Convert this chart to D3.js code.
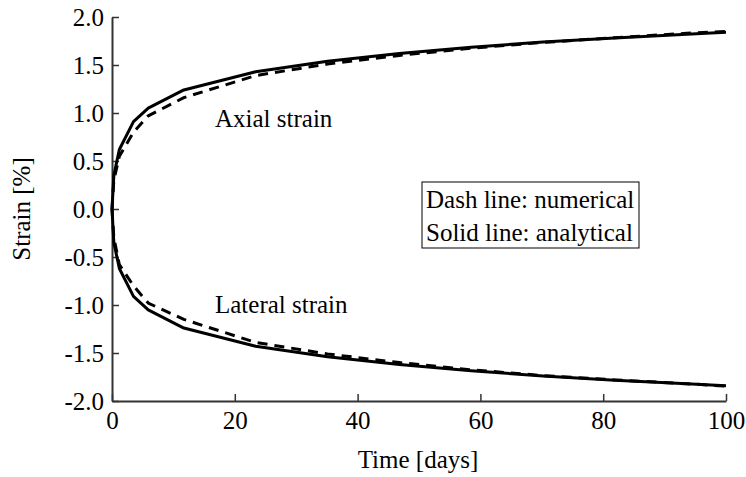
<!DOCTYPE html>
<html>
<head>
<meta charset="utf-8">
<script src="https://cdn.jsdelivr.net/npm/d3@7"></script>
<style>
html,body{margin:0;padding:0;background:#fff;}
svg{display:block;font-family:"Liberation Serif","Times New Roman",serif;}
</style>
</head>
<body>
<svg id="chart" width="746" height="477"></svg>
<script>
const time = [0, 0.3, 1.2, 3.5, 5.9, 11.7, 23.4, 35.1, 46.8, 58.5, 70.2, 81.9, 93.6, 100];
const axialAnalytical = [0, 0.35, 0.62, 0.91, 1.05, 1.24, 1.43, 1.54, 1.62, 1.685, 1.74, 1.78, 1.82, 1.84];
const axialNumerical  = [0, 0.30, 0.55, 0.80, 0.97, 1.16, 1.39, 1.51, 1.60, 1.675, 1.735, 1.785, 1.83, 1.85];
const lateralAnalytical = [0, -0.35, -0.62, -0.91, -1.05, -1.24, -1.43, -1.54, -1.62, -1.685, -1.74, -1.785, -1.82, -1.84];
const lateralNumerical  = [0, -0.30, -0.58, -0.80, -0.98, -1.15, -1.39, -1.51, -1.60, -1.675, -1.735, -1.78, -1.82, -1.845];
const xTicks = [0, 20, 40, 60, 80, 100];
const yTicks = [-2.0, -1.5, -1.0, -0.5, 0.0, 0.5, 1.0, 1.5, 2.0];

const svg = d3.select("#chart");
const x = d3.scaleLinear().domain([0, 100]).range([112, 726]);
const y = d3.scaleLinear().domain([-2, 2]).range([401, 17]);
const fs = 25;
const fmtY = d => d3.format(".1f")(d).replace("\u2212", "-");

const xAxis = d3.axisBottom(x).tickValues(xTicks).tickFormat(d3.format("d")).tickSizeInner(-7).tickSizeOuter(0).tickPadding(10);
const yAxis = d3.axisLeft(y).tickValues(yTicks).tickFormat(fmtY).tickSizeInner(-7).tickSizeOuter(0).tickPadding(8);

const gx = svg.append("g").attr("transform", `translate(0,${y(-2)})`).call(xAxis);
const gy = svg.append("g").attr("transform", `translate(${x(0)},0)`).call(yAxis);
[gx, gy].forEach(g => {
  g.select(".domain").attr("stroke", "#333").attr("stroke-width", 2);
  g.selectAll(".tick line").attr("stroke", "#333").attr("stroke-width", 1.5);
  g.selectAll(".tick text").attr("font-family", "Liberation Serif, serif").attr("font-size", fs).attr("fill", "#000");
});
gx.selectAll(".tick text").attr("dy", "0.71em");

const line = d3.line().x((d, i) => x(time[i])).y(d => y(d));
const series = [
  {v: axialAnalytical, dash: null},
  {v: lateralAnalytical, dash: null},
  {v: axialNumerical, dash: "10,7"},
  {v: lateralNumerical, dash: "10,7"}
];
series.forEach(s => {
  svg.append("path").datum(s.v).attr("d", line)
    .attr("fill", "none").attr("stroke", "#000").attr("stroke-width", 3)
    .attr("stroke-linejoin", "round")
    .attr("stroke-dasharray", s.dash);
});

svg.append("text").attr("x", 215).attr("y", 127).attr("font-size", fs).text("Axial strain");
svg.append("text").attr("x", 215).attr("y", 313).attr("font-size", fs).text("Lateral strain");

const lg = svg.append("g");
lg.append("rect").attr("x", 422).attr("y", 182).attr("width", 217).attr("height", 66)
  .attr("fill", "#fff").attr("stroke", "#000").attr("stroke-width", 1);
lg.append("text").attr("x", 426).attr("y", 208).attr("font-size", fs).text("Dash line: numerical");
lg.append("text").attr("x", 426).attr("y", 241).attr("font-size", fs).text("Solid line: analytical");

svg.append("text").attr("x", 418).attr("y", 468).attr("text-anchor", "middle").attr("font-size", fs).text("Time [days]");
svg.append("text").attr("transform", `translate(30,${y(0)}) rotate(-90)`).attr("text-anchor", "middle").attr("font-size", fs).text("Strain [%]");
</script>
</body>
</html>
